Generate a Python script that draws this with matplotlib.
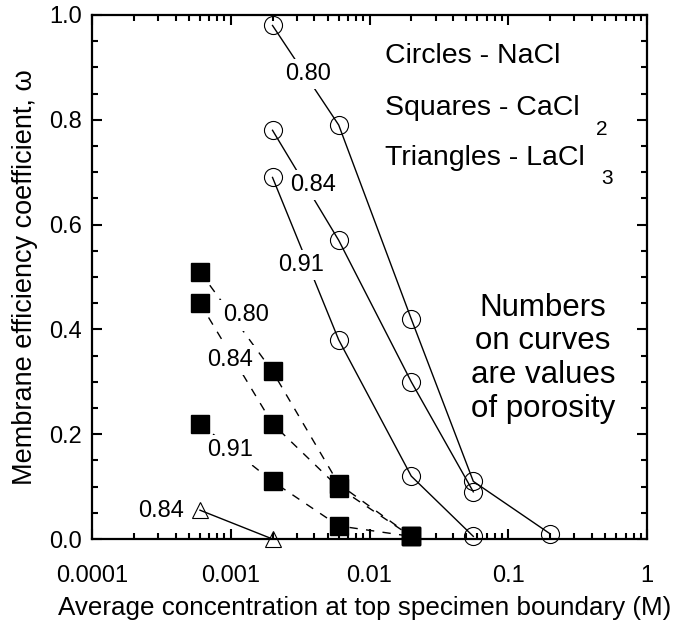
import matplotlib
matplotlib.use("Agg")
import matplotlib.pyplot as plt
from matplotlib.ticker import FixedLocator, FuncFormatter, LogLocator, MultipleLocator

plt.rcParams["font.family"] = ["Liberation Sans", "DejaVu Sans"]

# NaCl (circles), one curve per porosity
conc_nacl = [0.002, 0.006, 0.02, 0.056, 0.2]
nacl_080 = [0.98, 0.79, 0.42, 0.11, 0.01]
nacl_084 = [0.78, 0.57, 0.30, 0.09]
nacl_091 = [0.69, 0.38, 0.12, 0.005]

# CaCl2 (squares)
conc_cacl2 = [0.0006, 0.002, 0.006, 0.02]
cacl2_080 = [0.51, 0.32, 0.105, 0.005]
cacl2_084 = [0.45, 0.22, 0.098, 0.005]
cacl2_091 = [0.22, 0.11, 0.025, 0.005]

# LaCl3 (triangles)
conc_lacl3 = [0.0006, 0.002]
lacl3_084 = [0.055, 0.0]

x_ticks = [0.0001, 0.001, 0.01, 0.1, 1]
x_ticklabels = ["0.0001", "0.001", "0.01", "0.1", "1"]

fig = plt.figure(figsize=(6.77, 6.22), dpi=100)
ax = fig.add_axes([92 / 677, 1 - 539 / 622, 555 / 677, 524 / 622])
ax.set_xscale("log")
ax.set_xlim(1e-4, 1)
ax.set_ylim(0, 1.0)

circ = dict(color="black", lw=1.0, marker="o", ms=13, mfc="none", mec="black",
            mew=0.8, clip_on=False, zorder=2)
sq = dict(color="black", lw=1.0, ls=(0, (6, 6)), marker="s", ms=12.5, mfc="black",
          mec="black", clip_on=False, zorder=2)
tri = dict(color="black", lw=1.0, marker="^", ms=12, mfc="none", mec="black",
           mew=0.8, clip_on=False, zorder=2)

for ys in (nacl_080, nacl_084, nacl_091):
    ax.plot(conc_nacl[:len(ys)], ys, **circ)
for ys in (cacl2_080, cacl2_084, cacl2_091):
    ax.plot(conc_cacl2, ys, **sq)
ax.plot(conc_lacl3, lacl3_084, **tri)

# porosity labels sit on the curves and blank out the line beneath them
lab = dict(fontsize=17, ha="center", va="center", zorder=3,
           bbox=dict(facecolor="white", edgecolor="none", pad=3))
ax.text(0.0036, 0.887, "0.80", **lab)
ax.text(0.0039, 0.676, "0.84", **lab)
ax.text(0.0032, 0.523, "0.91", **lab)
ax.text(0.00128, 0.427, "0.80", **lab)
ax.text(0.00099, 0.342, "0.84", **lab)
ax.text(0.00099, 0.170, "0.91", **lab)
ax.text(0.000314, 0.053, "0.84", **lab)

key = dict(fontsize=20.5, ha="left", va="baseline")
ax.text(0.01295, 0.908, "Circles - NaCl", **key)
t2 = ax.text(0.01295, 0.809, "Squares - CaCl", **key)
t3 = ax.text(0.01295, 0.714, "Triangles - LaCl", **key)
for t, s in ((t2, "2"), (t3, "3")):
    ax.annotate(s, xy=(1, 0), xycoords=t, xytext=(12, 1), textcoords="offset points",
                fontsize=15, ha="left", va="top")

ax.text(0.178, 0.345, "Numbers\non curves\nare values\nof porosity",
        fontsize=22.5, ha="center", va="center", linespacing=1.16)

ax.xaxis.set_major_locator(FixedLocator(x_ticks))
ax.xaxis.set_major_formatter(FuncFormatter(lambda v, p: x_ticklabels[x_ticks.index(v)]
                                           if v in x_ticks else ""))
ax.xaxis.set_minor_locator(LogLocator(base=10, subs=range(2, 10)))
ax.xaxis.set_minor_formatter(FuncFormatter(lambda v, p: ""))
ax.yaxis.set_major_locator(MultipleLocator(0.2))
ax.yaxis.set_minor_locator(MultipleLocator(0.05))
ax.yaxis.set_major_formatter(FuncFormatter(lambda v, p: f"{v:.1f}"))

ax.tick_params(which="both", direction="in", top=True, right=True, width=1.5)
ax.tick_params(which="major", length=7.5, labelsize=17)
ax.tick_params(which="minor", length=4.5)
ax.tick_params(axis="x", which="major", pad=19)
ax.tick_params(axis="y", which="major", pad=7.5)
for sp in ax.spines.values():
    sp.set_linewidth(1.6)

ax.set_xlabel("Average concentration at top specimen boundary (M)", fontsize=18.7)
ax.xaxis.set_label_coords(0.492, -0.108)
ax.set_ylabel("Membrane efficiency coefficient, ω", fontsize=19.5)
ax.yaxis.set_label_coords(-0.097, 0.5)

fig.savefig("out.png", dpi=100)
